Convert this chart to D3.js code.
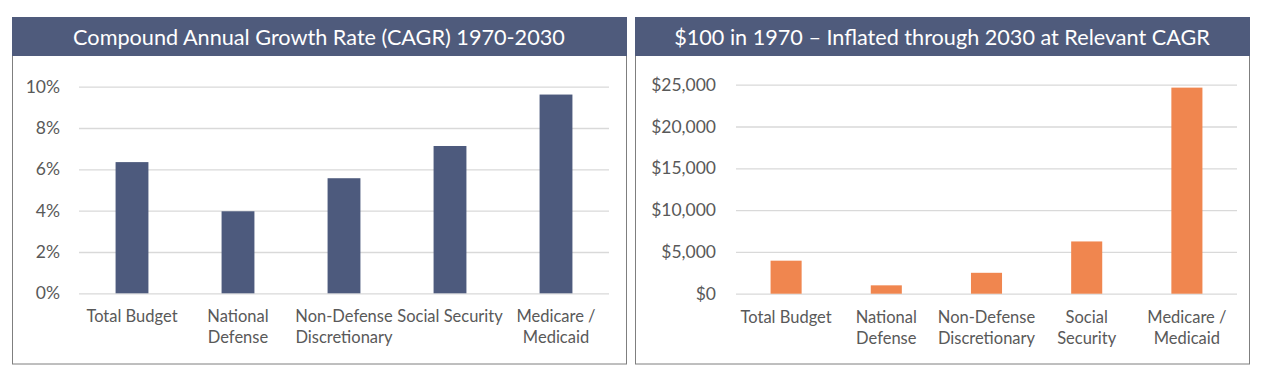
<!DOCTYPE html>
<html>
<head>
<meta charset="utf-8">
<script src="https://cdn.jsdelivr.net/npm/d3@7"></script>
<style>
  body { margin: 0; background: #fff; }
  text { font-family: "Lato", "Open Sans", sans-serif; }
</style>
</head>
<body>
<div id="chart"></div>
<script>
// Data
const categories = ["Total Budget", "National Defense", "Non-Defense Discretionary", "Social Security", "Medicare / Medicaid"];
const leftLabels = [["Total Budget"], ["National", "Defense"], ["Non-Defense", "Discretionary"], ["Social Security"], ["Medicare /", "Medicaid"]];
const rightLabels = [["Total Budget"], ["National", "Defense"], ["Non-Defense", "Discretionary"], ["Social", "Security"], ["Medicare /", "Medicaid"]];
const cagrValues = [6.35, 3.97, 5.57, 7.13, 9.62];
const inflatedValues = [3950, 1000, 2500, 6250, 24650];
const cagrTicks = [0, 2, 4, 6, 8, 10];
const dollarTicks = [0, 5000, 10000, 15000, 20000, 25000];

const width = 1263;
const height = 379;

const svg = d3.select("#chart")
  .append("svg")
  .attr("width", width)
  .attr("height", height);

const textColor = "#595959";

function drawPanel(opts) {
  const g = svg.append("g");

  // panel frame + header
  g.append("rect")
    .attr("x", opts.left + 0.5).attr("y", 17.5)
    .attr("width", opts.right - opts.left).attr("height", 346.5)
    .attr("fill", "#fff").attr("stroke", "#7f7f7f").attr("stroke-width", 1);
  g.append("rect")
    .attr("x", opts.left).attr("y", 17)
    .attr("width", opts.right - opts.left + 1).attr("height", 39)
    .attr("fill", "#4f5b7c");

  const title = g.append("text")
    .attr("x", (opts.left + opts.right) / 2)
    .attr("y", 37)
    .attr("dy", "0.35em")
    .attr("text-anchor", "middle")
    .attr("fill", "#fff")
    .style("font-size", "20px")
    .text(opts.title);
  // fit title width to the original
  const tw = title.node().getComputedTextLength();
  title.style("font-size", (20 * opts.titleWidth / tw) + "px");

  const x = d3.scaleBand()
    .domain(categories)
    .range(opts.xRange);

  const y = d3.scaleLinear()
    .domain(opts.yDomain)
    .range(opts.yRange);

  // y axis with gridlines
  const yAxis = d3.axisLeft(y)
    .tickValues(opts.ticks)
    .tickSizeInner(-(opts.xRange[1] - opts.xRange[0]))
    .tickSizeOuter(0)
    .tickPadding(opts.tickPad)
    .tickFormat(opts.format);

  const ya = g.append("g")
    .attr("transform", `translate(${opts.xRange[0]},0)`)
    .call(yAxis);
  ya.select(".domain").remove();
  ya.selectAll(".tick line").attr("stroke", "#d9d9d9").attr("stroke-width", 1.3);
  ya.selectAll(".tick text")
    .attr("fill", textColor)
    .style("font-size", "17.5px");

  // bars
  const bw = x.bandwidth() * 0.31;
  g.selectAll(".bar")
    .data(opts.values)
    .enter()
    .append("rect")
    .attr("x", (d, i) => x(categories[i]) + x.bandwidth() / 2 - bw / 2)
    .attr("y", d => y(d))
    .attr("width", bw)
    .attr("height", d => y(0) - y(d))
    .attr("fill", opts.color);

  // category labels
  const lab = g.selectAll(".cat")
    .data(opts.labels)
    .enter()
    .append("text")
    .attr("text-anchor", "middle")
    .attr("fill", textColor)
    .style("font-size", "16.5px");
  lab.each(function(lines, i) {
    const t = d3.select(this);
    lines.forEach((s, j) => {
      t.append("tspan")
        .attr("x", x(categories[i]) + x.bandwidth() / 2)
        .attr("y", opts.labelY + j * 21)
        .attr("dy", "0.35em")
        .text(s);
    });
  });
}

drawPanel({
  left: 12, right: 626,
  title: "Compound Annual Growth Rate (CAGR) 1970-2030",
  titleWidth: 492,
  xRange: [79, 609],
  yRange: [293.3, 86.7],
  yDomain: [0, 10],
  ticks: cagrTicks,
  tickPad: 19,
  format: d => d + "%",
  values: cagrValues,
  color: "#4d5a7d",
  labels: leftLabels,
  labelY: 316.5
});

drawPanel({
  left: 635, right: 1249,
  title: "$100 in 1970 \u2013 Inflated through 2030 at Relevant CAGR",
  titleWidth: 536,
  xRange: [736, 1237],
  yRange: [293.7, 84.7],
  yDomain: [0, 25000],
  ticks: dollarTicks,
  tickPad: 20,
  format: d => "$" + d3.format(",")(d),
  values: inflatedValues,
  color: "#f0864f",
  labels: rightLabels,
  labelY: 317.5
});
</script>
</body>
</html>
